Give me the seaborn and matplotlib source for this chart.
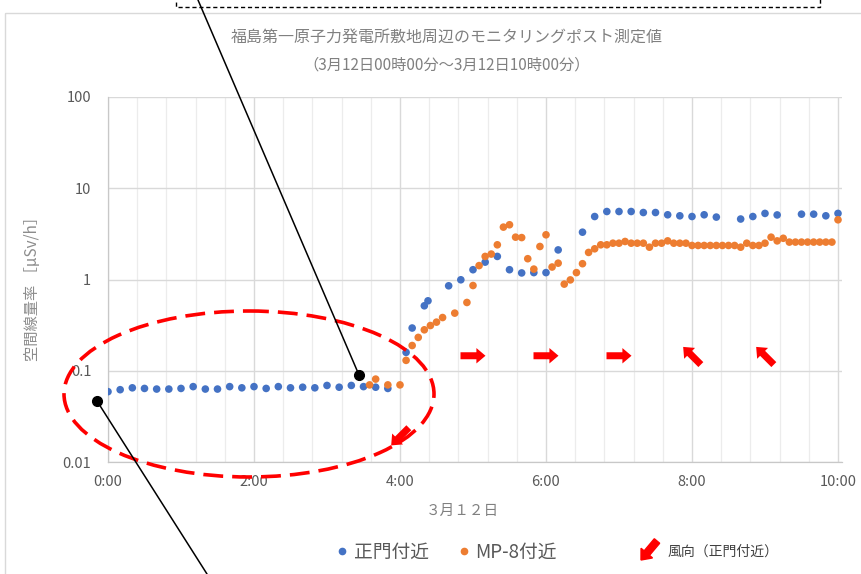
import pandas as pd
import seaborn as sns
import matplotlib.pyplot as plt
import matplotlib.transforms as mtransforms
from matplotlib.patches import Ellipse, Rectangle, FancyArrow
from matplotlib.lines import Line2D
from matplotlib.ticker import FixedLocator, MultipleLocator, FuncFormatter, NullLocator

# DATA
seimon_times = [
    "0:00", "0:10", "0:20", "0:30", "0:40", "0:50", "1:00", "1:10", "1:20", "1:30", "1:40", "1:50",
    "2:00", "2:10", "2:20", "2:30", "2:40", "2:50", "3:00", "3:10", "3:20", "3:30", "3:40", "3:50",
    "4:05", "4:10", "4:20", "4:23", "4:40", "4:50", "5:00", "5:10", "5:20", "5:30", "5:40", "5:50",
    "6:00", "6:10", "6:30", "6:40", "6:50", "7:00", "7:10", "7:20", "7:30", "7:40", "7:50", "8:00",
    "8:10", "8:20", "8:40", "8:50", "9:00", "9:10", "9:30", "9:40", "9:50", "10:00",
]
seimon_values = [
    0.059, 0.062, 0.065, 0.064, 0.063, 0.063, 0.064, 0.067, 0.063, 0.063, 0.067, 0.065,
    0.067, 0.064, 0.067, 0.065, 0.066, 0.065, 0.069, 0.066, 0.069, 0.067, 0.066, 0.064,
    0.159, 0.294, 0.515, 0.584, 0.853, 0.993, 1.28, 1.55, 1.79, 1.28, 1.18, 1.19,
    1.19, 2.11, 3.30, 4.9, 5.56, 5.56, 5.56, 5.42, 5.42, 5.12, 4.99, 4.9,
    5.12, 4.83, 4.6, 4.9, 5.3, 5.1, 5.2, 5.2, 4.99, 5.3,
]

mp8_times = [
    "3:35", "3:40", "3:50", "4:00", "4:05", "4:10", "4:15", "4:20", "4:25", "4:30", "4:35", "4:45",
    "4:55", "5:00", "5:05", "5:10", "5:15", "5:20", "5:25", "5:30", "5:35", "5:40", "5:45", "5:50",
    "5:55", "6:00", "6:05", "6:10", "6:15", "6:20", "6:25", "6:30", "6:35", "6:40", "6:45", "6:50",
    "6:55", "7:00", "7:05", "7:10", "7:15", "7:20", "7:25", "7:30", "7:35", "7:40", "7:45", "7:50",
    "7:55", "8:00", "8:05", "8:10", "8:15", "8:20", "8:25", "8:30", "8:35", "8:40", "8:45", "8:50",
    "8:55", "9:00", "9:05", "9:10", "9:15", "9:20", "9:25", "9:30", "9:35", "9:40", "9:45", "9:50",
    "9:55", "10:00",
]
mp8_values = [
    0.070, 0.081, 0.070, 0.070, 0.130, 0.189, 0.232, 0.281, 0.313, 0.341, 0.383, 0.428,
    0.56, 0.859, 1.42, 1.79, 1.90, 2.40, 3.75, 3.98, 2.91, 2.88, 1.69, 1.30,
    2.30, 3.09, 1.37, 1.51, 0.89, 0.99, 1.19, 1.49, 1.98, 2.17, 2.40, 2.40,
    2.50, 2.50, 2.61, 2.50, 2.50, 2.50, 2.26, 2.50, 2.50, 2.65, 2.50, 2.50,
    2.50, 2.36, 2.36, 2.36, 2.36, 2.36, 2.36, 2.36, 2.36, 2.26, 2.50, 2.36,
    2.36, 2.50, 2.91, 2.65, 2.83, 2.57, 2.57, 2.57, 2.57, 2.57, 2.57, 2.57,
    2.57, 4.51,
]

# wind direction at the main gate (direction the arrow points, degrees from east)
wind_times = ["4:00", "5:00", "6:00", "7:00", "8:00", "9:00"]
wind_to_deg = [225, 0, 0, 0, 135, 135]
wind_levels = [0.019, 0.146, 0.146, 0.146, 0.146, 0.146]

hour_ticks = [0, 2, 4, 6, 8, 10]
decade_ticks = [0.01, 0.1, 1, 10, 100]
decade_labels = ["0.01", "0.1", "1", "10", "100"]

BLUE = "#4472C4"
ORANGE = "#ED7D31"
GREY_TXT = "#595959"


def to_hours(t):
    h, m = t.split(":")
    return int(h) + int(m) / 60


df = pd.concat([
    pd.DataFrame({"時刻": [to_hours(t) for t in seimon_times], "線量率": seimon_values, "地点": "正門付近"}),
    pd.DataFrame({"時刻": [to_hours(t) for t in mp8_times], "線量率": mp8_values, "地点": "MP-8付近"}),
], ignore_index=True)

sns.set_style("white")
plt.rcParams["font.family"] = ["Noto Sans CJK JP", "DejaVu Sans"]

W, H = 861, 574
fig = plt.figure(figsize=(W / 100, H / 100), dpi=100)
px = mtransforms.Affine2D().scale(1 / W, -1 / H).translate(0, 1) + fig.transFigure

x0, x1, y0, y1 = 108, 842, 97, 462
ax = fig.add_axes([x0 / W, 1 - y1 / H, (x1 - x0) / W, (y1 - y0) / H])

sns.scatterplot(data=df, x="時刻", y="線量率", hue="地点",
                palette={"正門付近": BLUE, "MP-8付近": ORANGE},
                s=30, linewidth=0, legend=False, ax=ax, zorder=3)

ax.set_yscale("log")
ax.set_ylim(0.01, 100)
ax.set_xlim(0, (x1 - x0) / 73)
ax.set_xlabel("")
ax.set_ylabel("")

ax.xaxis.set_major_locator(FixedLocator(hour_ticks))
ax.xaxis.set_major_formatter(FuncFormatter(lambda v, p: f"{int(round(v))}:00"))
ax.xaxis.set_minor_locator(MultipleLocator(0.4))
ax.yaxis.set_major_locator(FixedLocator(decade_ticks))
ax.yaxis.set_major_formatter(FuncFormatter(lambda v, p: decade_labels[decade_ticks.index(v)] if v in decade_ticks else ""))
ax.yaxis.set_minor_locator(NullLocator())

ax.grid(True, which="major", color="#d9d9d9", lw=1)
ax.grid(True, which="minor", axis="x", color="#ececec", lw=0.9)
ax.tick_params(length=0, labelsize=10.5, colors=GREY_TXT)
ax.tick_params(axis="y", pad=12)
ax.tick_params(axis="x", pad=9)
for side in ["top", "right"]:
    ax.spines[side].set_visible(False)
for side in ["left", "bottom"]:
    ax.spines[side].set_color("#c8c8c8")
    ax.spines[side].set_linewidth(0.9)

# wind arrows
ax.quiver([to_hours(t) for t in wind_times], wind_levels,
          [1 if d == 0 else (-0.707) for d in wind_to_deg],
          [0 if d == 0 else (0.707 if d == 135 else -0.707) for d in wind_to_deg],
          angles="uv", pivot="middle", color="red", scale_units="inches", scale=4.0,
          units="dots", width=7, headwidth=2.2, headlength=1.3, headaxislength=1.3, zorder=4)

# titles and axis labels
fig.text(447 / W, 1 - 38 / H, "福島第一原子力発電所敷地周辺のモニタリングポスト測定値",
         ha="center", va="center", fontsize=11.5, color="#808080")
fig.text(447 / W, 1 - 65 / H, "（3月12日00時00分～3月12日10時00分）",
         ha="center", va="center", fontsize=11, color="#808080")
fig.text(33 / W, 1 - 285 / H, "空間線量率 ［μSv/h］", rotation=90,
         ha="center", va="center", fontsize=11, color="#8c8c8c")
fig.text(462 / W, 1 - 511 / H, "３月１２日", ha="center", va="center", fontsize=10.5, color="#808080")

# legend
handles = [Line2D([], [], marker="o", ls="", color=BLUE, markersize=4.5),
           Line2D([], [], marker="o", ls="", color=ORANGE, markersize=4.5)]
fig.legend(handles, ["正門付近", "MP-8付近"], loc="center", bbox_to_anchor=(447 / W, 1 - 552 / H),
           ncol=2, frameon=False, fontsize=13.5, handlelength=0.6, handletextpad=0.3,
           columnspacing=1.6, labelcolor=GREY_TXT)
fig.add_artist(FancyArrow(657, 541, -16, 19, width=7, head_width=15, head_length=9,
                          length_includes_head=True, color="red", transform=px))
fig.text(668 / W, 1 - 552 / H, "風向（正門付近）", ha="left", va="center", fontsize=10, color="#404040")

# overlays: chart frame, dashed box, ellipse, callouts
fig.add_artist(Rectangle((5, 13), 900, 700, fill=False, ec="#d9d9d9", lw=1, transform=px))
fig.add_artist(Rectangle((176, -20), 644, 27, fill=False, ec="black", lw=1, ls=(0, (3, 2)), transform=px))
fig.add_artist(Ellipse((249, 394), 370, 166, fill=False, ec="red", lw=2.6, ls=(0, (5.5, 2.5)),
                       transform=px, zorder=5))
for (dx, dy), (ex, ey) in [((359, 375), (198, 0)), ((97, 401), (207, 574))]:
    fig.add_artist(Line2D([dx, ex], [dy, ey], color="black", lw=1.1, transform=px, zorder=6))
    fig.add_artist(Line2D([dx], [dy], marker="o", color="black", markersize=7, transform=px, zorder=6))

fig.savefig("out.png", dpi=100)
